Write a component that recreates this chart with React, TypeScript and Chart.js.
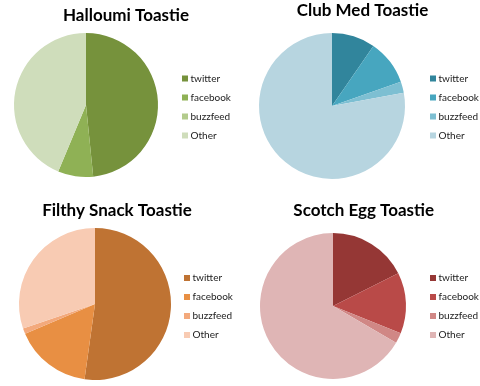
import React, { useEffect, useRef } from "react";
import { Chart, registerables } from "chart.js";

Chart.register(...registerables);

// ---- data ----
const categories = ["twitter", "facebook", "buzzfeed", "Other"];
const titles = ["Halloumi Toastie", "Club Med Toastie", "Filthy Snack Toastie", "Scotch Egg Toastie"];
const halloumiValues = [48.4, 7.9, 0, 43.7];
const clubMedValues = [9.6, 10.0, 2.5, 77.9];
const filthySnackValues = [52.2, 16.4, 1.2, 30.2];
const scotchEggValues = [17.6, 13.5, 2.3, 66.6];

// ---- styles ----
const halloumiColors = ["#76923C", "#8FB155", "#B3CB8C", "#CFDDBB"];
const clubMedColors = ["#31859C", "#47A6BF", "#7DBFD2", "#B7D5E0"];
const filthySnackColors = ["#BF7333", "#E88F43", "#F3A97C", "#F8CBB3"];
const scotchEggColors = ["#953735", "#B94A48", "#D08785", "#DFB5B5"];

const FONT = "Lato, 'Open Sans', sans-serif";
const TITLE_SIZE = 17;
const LEGEND_SIZE = 10;
const LEGEND_PAD = 9;
const BOX = 6;
const BOX_W = 1;
const OFFSET = 12; // canvas extends this far left of its quadrant

type Layout = {
  x: number; y: number; cx: number; cy: number; r: number;
  boxX: number; titleX: number; titleY: number; legendShift: number;
};

const layouts: Layout[] = [
  { x: 0, y: 0, cx: 86, cy: 105, r: 72, boxX: 182, titleX: 126, titleY: 21, legendShift: 2 },
  { x: 240, y: 0, cx: 92, cy: 106, r: 73, boxX: 190, titleX: 122.5, titleY: 15.7, legendShift: 1 },
  { x: 0, y: 193, cx: 95, cy: 111, r: 76, boxX: 184, titleX: 117, titleY: 22.7, legendShift: 2.5 },
  { x: 240, y: 193, cx: 93, cy: 113, r: 73, boxX: 190, titleX: 123.7, titleY: 23, legendShift: 0.5 },
];

const panelTitle = {
  id: "panelTitle",
  afterDraw(chart: any, _args: any, opts: any) {
    const ctx = chart.ctx;
    ctx.save();
    ctx.font = `bold ${TITLE_SIZE}px ${FONT}`;
    ctx.fillStyle = "#000000";
    ctx.textAlign = "center";
    ctx.textBaseline = "alphabetic";
    ctx.fillText(opts.text, opts.x, opts.y);
    ctx.restore();
  },
};

function measureTextWidth(): number {
  const c = document.createElement("canvas");
  const ctx = c.getContext("2d")!;
  ctx.font = `${LEGEND_SIZE}px ${FONT}`;
  let w = 0;
  for (const t of categories) w = Math.max(w, ctx.measureText(t).width);
  return w;
}

function Pie({ title, values, colors, layout }: { title: string; values: number[]; colors: string[]; layout: Layout }) {
  const ref = useRef<HTMLCanvasElement | null>(null);
  const W = 240 + OFFSET;
  const H = 193;
  useEffect(() => {
    if (!ref.current) return;
    const boxX = layout.boxX + OFFSET;
    const cx = layout.cx + OFFSET;
    // legend item: point-style square (side BOX) centred at x + BOX_W/2, text at x + BOX_W + fontSize/2
    const iw = BOX_W + LEGEND_SIZE / 2 + measureTextWidth();
    const itemX = boxX + BOX / 2 - BOX_W / 2;
    const pr = W - iw - 10 - itemX;
    const legendLeft = itemX - LEGEND_PAD;
    const pl = 2 * cx - legendLeft;
    const pt = layout.cy - layout.r;
    const pb = H - (layout.cy + layout.r);
    const chart = new Chart(ref.current, {
      type: "pie",
      data: {
        labels: categories,
        datasets: [
          {
            data: values,
            backgroundColor: colors,
            borderWidth: 0,
          },
        ],
      },
      plugins: [panelTitle as any],
      options: {
        animation: false,
        responsive: false,
        maintainAspectRatio: false,
        layout: { padding: { left: pl, right: pr, top: pt, bottom: pb } },
        plugins: {
          title: { display: false },
          tooltip: { enabled: false },
          legend: {
            display: true,
            position: "right",
            title: {
              display: layout.legendShift > 0,
              text: " ",
              padding: 0,
              font: { size: 1, lineHeight: `${layout.legendShift * 2}px` },
            },
            labels: {
              usePointStyle: true,
              pointStyle: "rect",
              boxWidth: BOX_W,
              boxHeight: BOX,
              padding: LEGEND_PAD,
              color: "#222222",
              font: { family: FONT, size: LEGEND_SIZE },
            },
          },
          panelTitle: { text: title, x: layout.titleX + OFFSET, y: layout.titleY },
        } as any,
      },
    });
    return () => chart.destroy();
  }, []);
  return (
    <canvas
      ref={ref}
      width={W}
      height={H}
      style={{ position: "absolute", left: layout.x - OFFSET, top: layout.y, width: W, height: H }}
    />
  );
}

export default function App() {
  return (
    <div style={{ position: "absolute", left: 0, top: 0, width: 480, height: 386, background: "#ffffff", overflow: "hidden" }}>
      <Pie title={titles[0]} values={halloumiValues} colors={halloumiColors} layout={layouts[0]} />
      <Pie title={titles[1]} values={clubMedValues} colors={clubMedColors} layout={layouts[1]} />
      <Pie title={titles[2]} values={filthySnackValues} colors={filthySnackColors} layout={layouts[2]} />
      <Pie title={titles[3]} values={scotchEggValues} colors={scotchEggColors} layout={layouts[3]} />
    </div>
  );
}
